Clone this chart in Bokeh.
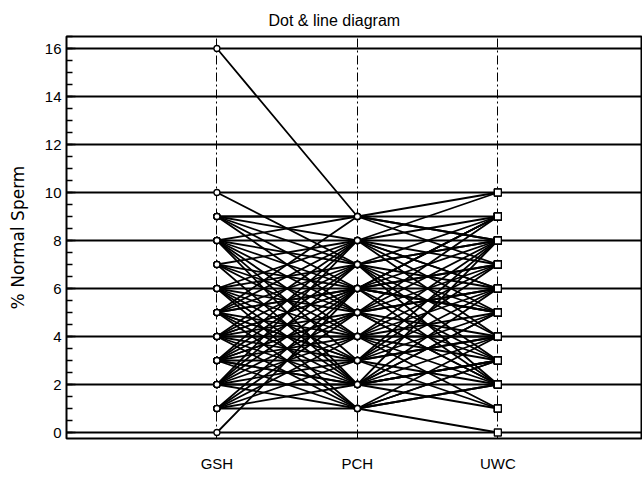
from bokeh.plotting import figure
from bokeh.models import SingleIntervalTicker, FixedTicker, Range1d
from bokeh.embed import file_html
from bokeh.resources import INLINE

categories = ["GSH", "PCH", "UWC"]
gsh = [16, 10, 9, 9, 9, 9, 8, 8, 8, 8, 8, 7, 7, 7, 6, 6, 6, 6, 6, 5, 5, 5, 5, 5, 5, 5,
       4, 4, 4, 4, 4, 4, 3, 3, 3, 3, 3, 3, 3, 2, 2, 2, 2, 2, 2, 1, 1, 1, 1, 0, 1, 9,
       8, 7, 6, 5, 4, 3, 2, 1, 7, 5, 4, 3, 2, 9, 8, 6, 5, 4, 3]
pch = [9, 7, 9, 8, 6, 9, 9, 5, 4, 7, 3, 8, 4, 6, 8, 2, 5, 3, 7, 8, 4, 2, 6, 3, 7, 1,
       6, 3, 5, 2, 7, 1, 5, 4, 8, 2, 6, 3, 1, 4, 6, 3, 5, 2, 7, 1, 3, 5, 2, 6, 4, 5,
       6, 2, 4, 9, 8, 7, 8, 6, 5, 3, 4, 2, 1, 7, 2, 1, 6, 6, 5]
uwc = [9, 8, 10, 6, 8, 7, 8, 9, 7, 5, 6, 10, 3, 9, 5, 4, 8, 7, 2, 9, 6, 5, 3, 8, 4, 2,
       7, 5, 2, 8, 3, 4, 7, 4, 6, 3, 5, 1, 3, 5, 2, 4, 6, 1, 9, 0, 2, 4, 3, 5, 2, 6,
       9, 6, 8, 8, 7, 8, 4, 5, 3, 4, 1, 5, 2, 6, 3, 3, 7, 9, 2]

FONT = "Liberation Sans"

p = figure(width=642, height=474, output_backend="svg", toolbar_location=None,
           title="Dot & line diagram",
           x_range=Range1d(-0.071, 4.03), y_range=Range1d(-0.25, 16.5),
           min_border_left=66, min_border_right=0, min_border_bottom=34,
           min_border_top=36)

p.title.align = "left"
p.title.offset = 202
p.title.text_font = FONT
p.title.text_font_size = "16px"
p.title.text_font_style = "normal"
p.title.text_color = "black"
p.title.standoff = 16

p.outline_line_color = "black"
p.outline_line_width = 2
p.background_fill_color = "white"
p.border_fill_color = "white"

# y axis
p.yaxis.ticker = SingleIntervalTicker(interval=2, num_minor_ticks=4)
p.yaxis.axis_label = "% Normal Sperm"
p.yaxis.axis_label_text_font = "DejaVu Sans"
p.yaxis.axis_label_text_font_style = "normal"
p.yaxis.axis_label_text_font_size = "17px"
p.yaxis.axis_label_text_color = "black"
p.yaxis.axis_label_standoff = 14
p.yaxis.major_label_text_font = FONT
p.yaxis.major_label_text_font_size = "15px"
p.yaxis.major_label_text_color = "black"
p.yaxis.axis_line_color = None
p.yaxis.major_tick_in = 9
p.yaxis.major_tick_out = 0
p.yaxis.minor_tick_in = 6
p.yaxis.minor_tick_out = 0
p.yaxis.major_tick_line_color = "black"
p.yaxis.minor_tick_line_color = "black"
p.yaxis.major_tick_line_width = 1.5
p.yaxis.minor_tick_line_width = 1.5
p.yaxis.major_label_standoff = 5

# x axis
xpos = [i + 1 for i in range(len(categories))]
p.xaxis.ticker = FixedTicker(ticks=xpos)
p.xaxis.major_label_overrides = {x: c for x, c in zip(xpos, categories)}
p.xaxis.axis_line_color = None
p.xaxis.major_tick_line_color = None
p.xaxis.minor_tick_line_color = None
p.xaxis.major_tick_out = 0
p.xaxis.major_tick_in = 0
p.xaxis.major_label_text_font = FONT
p.xaxis.major_label_text_font_size = "15px"
p.xaxis.major_label_text_color = "black"
p.xaxis.major_label_standoff = 16

# grids
p.ygrid.ticker = SingleIntervalTicker(interval=2)
p.ygrid.grid_line_color = "black"
p.ygrid.grid_line_width = 2
p.ygrid.grid_line_alpha = 1
p.xgrid.grid_line_color = "black"
p.xgrid.grid_line_width = 1
p.xgrid.grid_line_dash = "9 3 2 3"

# subject lines
xs = [list(xpos) for _ in gsh]
ys = [[a, b, c] for a, b, c in zip(gsh, pch, uwc)]
p.multi_line(xs=xs, ys=ys, line_color="black", line_width=1.8)

# markers
p.scatter(x=[xpos[0]] * len(gsh), y=gsh, marker="circle", size=6,
          fill_color="white", line_color="black", line_width=1.3)
p.scatter(x=[xpos[1]] * len(pch), y=pch, marker="circle", size=6,
          fill_color="white", line_color="black", line_width=1.3)
p.scatter(x=[xpos[2]] * len(uwc), y=uwc, marker="square", size=7,
          fill_color="white", line_color="black", line_width=1.3)

open("out.html", "w").write(file_html(p, INLINE))
